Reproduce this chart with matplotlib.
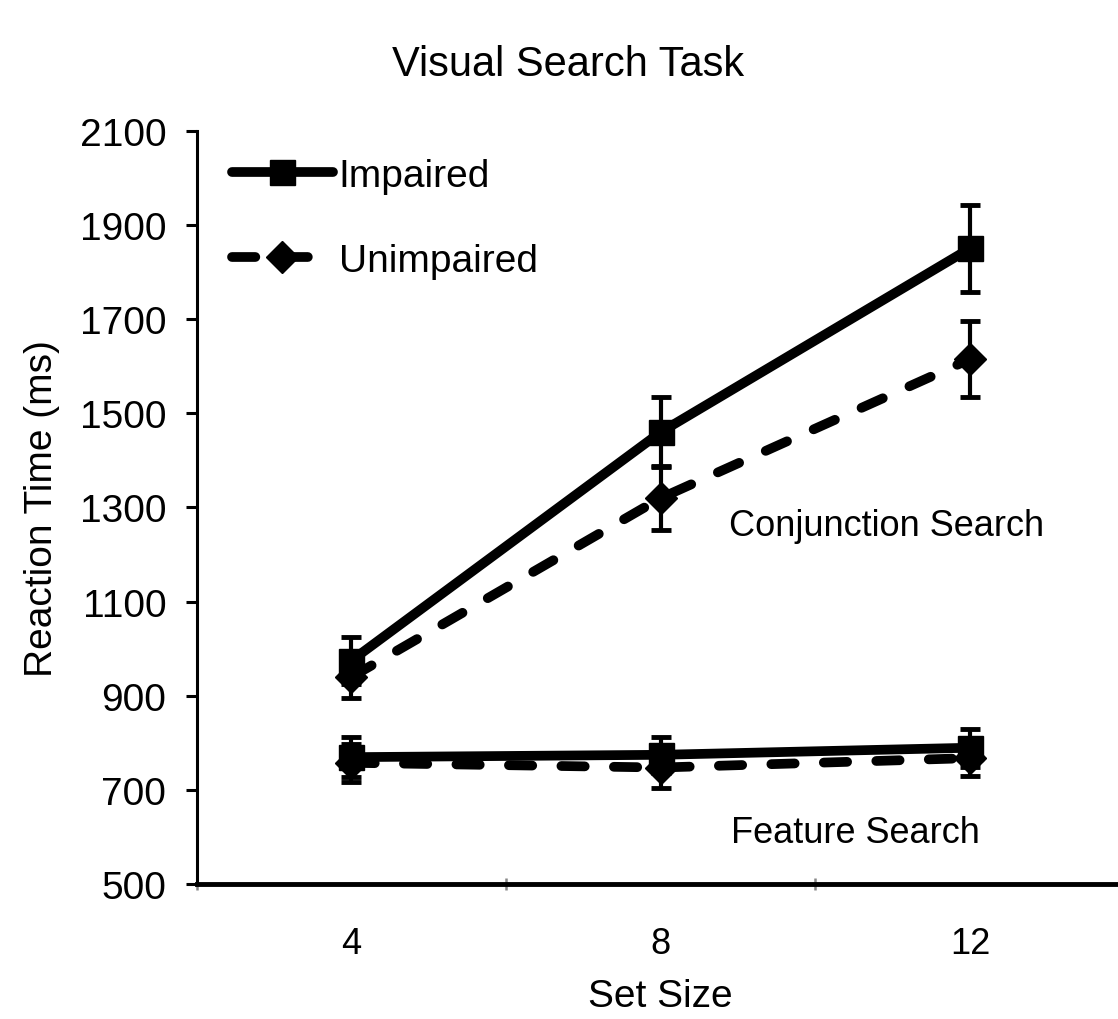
import numpy as np
import matplotlib
matplotlib.use("Agg")
import matplotlib.pyplot as plt
from matplotlib.lines import Line2D

plt.rcParams['font.family'] = ['Liberation Sans', 'DejaVu Sans']

# set sizes shown as categories
set_sizes = ["4", "8", "12"]

# conjunction search (ms)
impaired_conj = [975, 1460, 1850]
impaired_conj_err = [50, 75, 92]
unimpaired_conj = [940, 1320, 1615]
unimpaired_conj_err = [45, 68, 80]

# feature search (ms)
impaired_feat = [770, 775, 790]
impaired_feat_err = [42, 38, 40]
unimpaired_feat = [758, 748, 768]
unimpaired_feat_err = [40, 43, 38]

LW = 7
DASH = (2.4, 3.0)
x = np.arange(1, len(set_sizes) + 1)

fig = plt.figure(figsize=(11.18, 10.2), dpi=100)
ax = fig.add_axes([0.176, 0.132, 0.830, 0.739])

def draw(vals, errs, marker, ms, dashed):
    line, caps, bars = ax.errorbar(x, vals, yerr=errs, color="black", lw=LW,
                                   marker=marker, ms=ms, elinewidth=3,
                                   capsize=7, capthick=3.5,
                                   solid_capstyle="round", dash_capstyle="round")
    if dashed:
        line.set_dashes(DASH)

draw(unimpaired_conj, unimpaired_conj_err, "D", 16, True)
draw(unimpaired_feat, unimpaired_feat_err, "D", 16, True)
draw(impaired_conj, impaired_conj_err, "s", 18, False)
draw(impaired_feat, impaired_feat_err, "s", 18, False)

ax.set_xlim(0.5, 3.5)
ax.set_ylim(500, 2100)
ax.set_yticks(np.arange(500, 2101, 200))
ax.set_xticks(x)
ax.set_xticklabels(set_sizes)
ax.set_xticks([0.5, 1.5, 2.5, 3.5], minor=True)
ax.tick_params(axis="x", which="major", length=0, labelsize=26, pad=30)
ax.tick_params(axis="x", which="minor", length=9, width=1.8, color="#888888",
               direction="inout")
ax.tick_params(axis="y", length=8, width=2.2, labelsize=28, pad=14)

for s in ["top", "right"]:
    ax.spines[s].set_visible(False)
ax.spines["left"].set_linewidth(2.2)
ax.spines["bottom"].set_linewidth(3.5)

ax.set_xlabel("Set Size", fontsize=28, labelpad=12)
ax.set_ylabel("Reaction Time (ms)", fontsize=28, labelpad=14)
fig.text(0.508, 0.936, "Visual Search Task", fontsize=30, ha="center", va="center")

ax.text(2.73, 1261, "Conjunction Search", fontsize=26, ha="center", va="center")
ax.text(2.63, 611, "Feature Search", fontsize=26, ha="center", va="center")

h_imp = Line2D([], [], color="black", lw=LW, marker="s", ms=18,
               solid_capstyle="round")
h_unimp = Line2D([], [], color="black", lw=LW, marker="D", ms=16,
                 dashes=DASH, dash_capstyle="round")
ax.legend([h_imp, h_unimp], ["Impaired", "Unimpaired"],
          loc="upper left", bbox_to_anchor=(0.0, 1.01), frameon=False,
          fontsize=28, handlelength=2.6, handletextpad=0.15,
          labelspacing=1.25)

fig.savefig("out.png", dpi=100)
